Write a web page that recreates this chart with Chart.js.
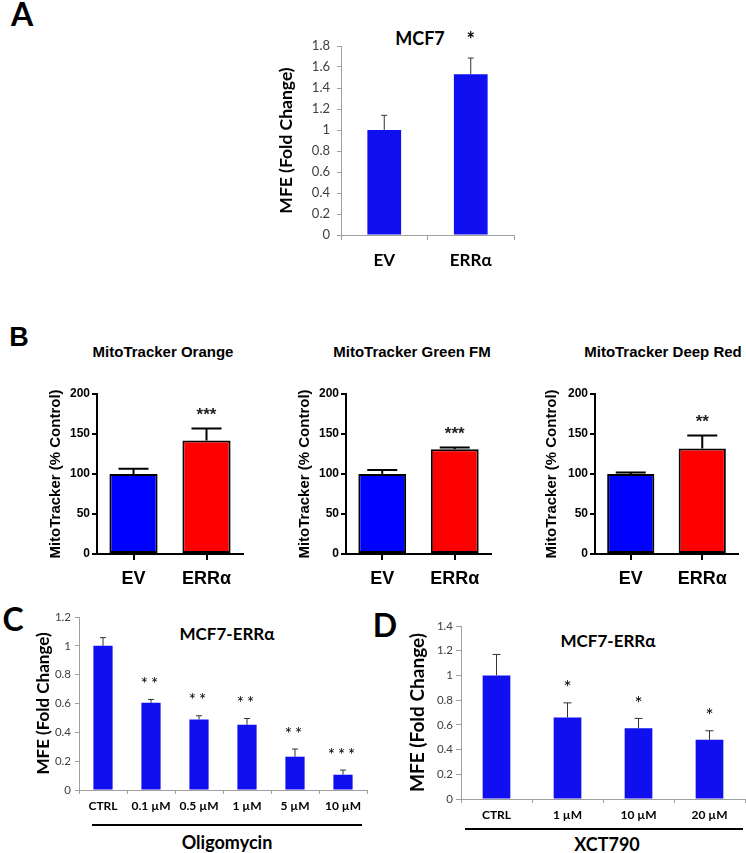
<!DOCTYPE html>
<html><head><meta charset="utf-8">
<script src="https://cdn.jsdelivr.net/npm/chart.js@4"></script>
<style>
html,body{margin:0;padding:0;background:#fff;}
#root{position:relative;width:746px;height:853px;overflow:hidden;background:#fff;}
canvas{position:absolute;}
.t{position:absolute;white-space:nowrap;transform:translate(-50%,-50%);line-height:1;color:#000;}
.xl{font-family:Lato,"Open Sans",sans-serif;font-weight:bold;}
.pr{font-family:"Liberation Sans",Arial,sans-serif;font-weight:bold;}
.ln{position:absolute;background:#000;height:2px;}
</style></head><body><div id="root">
<div class="t xl" style="left:22px;top:14px;font-size:32px">A</div>
<div class="t xl" style="left:420px;top:38px;font-size:18px">MCF7</div>
<div class="t pr" style="left:19px;top:337px;font-size:27px">B</div>
<div class="t pr" style="left:163px;top:351px;font-size:15px">MitoTracker Orange</div>
<div class="t pr" style="left:412px;top:351px;font-size:15px">MitoTracker Green FM</div>
<div class="t pr" style="left:663px;top:351px;font-size:15px">MitoTracker Deep Red</div>
<div class="t xl" style="left:13px;top:619px;font-size:32px">C</div>
<div class="t xl" style="left:227px;top:633px;font-size:17px">MCF7-ERRα</div>
<div class="ln" style="left:92px;top:824px;width:270px"></div>
<div class="t xl" style="left:227px;top:842px;font-size:18px">Oligomycin</div>
<div class="t xl" style="left:385px;top:625px;font-size:32px">D</div>
<div class="t xl" style="left:608px;top:640px;font-size:17px">MCF7-ERRα</div>
<div class="ln" style="left:465px;top:828px;width:278px"></div>
<div class="t xl" style="left:607px;top:844px;font-size:18px">XCT790</div>
</div>
<script>
// ---------- data ----------
const aCategories = ['EV', 'ERRα'];
const aValues = [1.0, 1.53];
const aErrors = [0.14, 0.155];
const aStars = ['', '*'];
const aYTicks = [0, 0.2, 0.4, 0.6, 0.8, 1, 1.2, 1.4, 1.6, 1.8];

const bCategories = ['EV', 'ERRα'];
const bOrangeValues = [100, 142];
const bOrangeErrors = [6.5, 15];
const bOrangeStars = ['', '***'];
const bGreenValues = [100, 131];
const bGreenErrors = [5, 2];
const bGreenStars = ['', '***'];
const bDeepRedValues = [100, 132];
const bDeepRedErrors = [2, 16];
const bDeepRedStars = ['', '**'];
const bYTicks = [0, 50, 100, 150, 200];

const cCategories = ['CTRL', '0.1 µM', '0.5 µM', '1 µM', '5 µM', '10 µM'];
const cValues = [1.0, 0.605, 0.489, 0.452, 0.231, 0.106];
const cErrors = [0.057, 0.023, 0.026, 0.044, 0.053, 0.032];
const cStars = ['', '**', '**', '**', '**', '***'];
const cYTicks = [0, 0.2, 0.4, 0.6, 0.8, 1, 1.2];

const dCategories = ['CTRL', '1 µM', '10 µM', '20 µM'];
const dValues = [1.0, 0.66, 0.573, 0.479];
const dErrors = [0.17, 0.118, 0.079, 0.073];
const dStars = ['', '*', '*', '*'];
const dYTicks = [0, 0.2, 0.4, 0.6, 0.8, 1, 1.2, 1.4];

// ---------- helpers ----------
const XL = 'Lato, "Open Sans", sans-serif';
const PR = '"Liberation Sans", Arial, sans-serif';
const EXBLUE = '#0f0ff0';

const errPlugin = {
  id: 'errbars',
  afterDatasetsDraw(chart, args, o) {
    const ctx = chart.ctx, ys = chart.scales.y;
    const ds = chart.data.datasets[0];
    chart.getDatasetMeta(0).data.forEach((bar, i) => {
      const v = ds.data[i], e = o.errors[i];
      const yTop = ys.getPixelForValue(v + e);
      ctx.save();
      ctx.strokeStyle = o.color; ctx.lineWidth = o.width; ctx.lineCap = 'butt';
      ctx.beginPath();
      ctx.moveTo(bar.x, bar.y); ctx.lineTo(bar.x, yTop);
      ctx.moveTo(bar.x - o.cap / 2, yTop); ctx.lineTo(bar.x + o.cap / 2, yTop);
      ctx.stroke();
      const s = o.stars[i];
      if (s) {
        ctx.fillStyle = o.starColor; ctx.font = o.starFont;
        ctx.textAlign = 'center'; ctx.textBaseline = 'middle';
        if ('letterSpacing' in ctx) ctx.letterSpacing = o.starSpacing || '0px';
        ctx.fillText(s, bar.x, yTop - o.starGap);
      }
      ctx.restore();
    });
  }
};

function fmt(v) { return String(+(+v).toFixed(2)); }

function makeBar(o) {
  const root = document.getElementById('root');
  const cv = document.createElement('canvas');
  cv.width = o.w; cv.height = o.h;
  cv.style.left = o.x + 'px'; cv.style.top = o.y + 'px';
  cv.style.width = o.w + 'px'; cv.style.height = o.h + 'px';
  root.appendChild(cv);
  return new Chart(cv, {
    type: 'bar',
    data: {
      labels: o.labels,
      datasets: [{
        data: o.values,
        backgroundColor: o.colors,
        borderColor: o.borderColor || 'rgba(0,0,0,0)',
        borderWidth: o.borderWidth || 0,
        borderSkipped: false,
        barPercentage: o.barPct,
        categoryPercentage: 1
      }]
    },
    options: {
      responsive: false, animation: false, devicePixelRatio: 1,
      layout: { padding: { top: o.padTop, right: o.padRight, left: 0, bottom: 0 } },
      plugins: {
        legend: { display: false }, tooltip: { enabled: false },
        errbars: o.err
      },
      scales: {
        x: {
          afterFit: s => { s.height = o.xH; },
          grid: { display: true, drawOnChartArea: false, drawTicks: true, tickLength: o.xTickLen,
                  color: o.axisColor, lineWidth: o.axisWidth, offset: o.xGridOffset },
          border: { display: true, color: o.axisColor, width: o.axisWidth },
          ticks: { color: o.xLabelColor, font: o.xFont, padding: o.xPad, maxRotation: 0, autoSkip: false }
        },
        y: {
          min: o.yTicks[0], max: o.yTicks[o.yTicks.length - 1],
          afterFit: s => { s.width = o.yW; },
          afterBuildTicks: s => { s.ticks = o.yTicks.map(v => ({ value: v })); },
          grid: { display: true, drawOnChartArea: false, drawTicks: true, tickLength: o.yTickLen,
                  color: o.axisColor, lineWidth: o.axisWidth },
          border: { display: true, color: o.axisColor, width: o.axisWidth },
          ticks: { color: o.yLabelColor, font: o.yFont, padding: o.yPad, callback: v => fmt(v) },
          title: { display: true, text: o.yTitle, color: '#000', font: o.yTitleFont,
                   padding: { top: o.yTitlePad, bottom: 0 } }
        }
      }
    },
    plugins: [errPlugin]
  });
}

// ---------- Panel A ----------
makeBar({
  x: 270, y: 20, w: 262, h: 260, labels: aCategories, values: aValues,
  colors: EXBLUE, barPct: 0.39, padTop: 26, padRight: 18, xH: 45, yW: 71,
  xTickLen: 5, yTickLen: 4, axisColor: '#a0a0a0', axisWidth: 1, xGridOffset: true,
  xLabelColor: '#000', xFont: { family: XL, size: 17, weight: 'bold' }, xPad: 10,
  yLabelColor: '#404040', yFont: { family: XL, size: 13 }, yPad: 7,
  yTicks: aYTicks, yTitle: 'MFE (Fold Change)', yTitleFont: { family: XL, size: 17.5, weight: 'bold' }, yTitlePad: 6,
  err: { errors: aErrors, stars: aStars, color: '#333', width: 1, cap: 6, starGap: 18,
         starColor: '#000', starFont: 'bold 20px ' + XL }
});

// ---------- Panel B ----------
const bCommon = {
  w: 210, h: 235, y: 365, labels: bCategories, colors: ['#0000ff', '#ff0000'],
  borderColor: '#000', borderWidth: 2, barPct: 0.66, padTop: 29, xH: 46,
  xTickLen: 6, yTickLen: 5, axisColor: '#000', axisWidth: 2, xGridOffset: false,
  xLabelColor: '#000', xFont: { family: PR, size: 18, weight: 'bold' }, xPad: 8,
  yLabelColor: '#000', yFont: { family: PR, size: 12, weight: 'bold' }, yPad: 2,
  yTicks: bYTicks, yTitle: 'MitoTracker (% Control)', yTitleFont: { family: PR, size: 15, weight: 'bold' }
};
function bErr(errors, stars) {
  return { errors, stars, color: '#000', width: 2, cap: 30, starGap: 13,
           starColor: '#222', starFont: 'bold 17px ' + PR };
}
makeBar(Object.assign({}, bCommon, { x: 40, yW: 57, padRight: 7, yTitlePad: 7,
  values: bOrangeValues, err: bErr(bOrangeErrors, bOrangeStars) }));
makeBar(Object.assign({}, bCommon, { x: 290, yW: 56, padRight: 9, yTitlePad: 6,
  values: bGreenValues, err: bErr(bGreenErrors, bGreenStars) }));
makeBar(Object.assign({}, bCommon, { x: 540, w: 206, yW: 55, padRight: 8, yTitlePad: 3,
  values: bDeepRedValues, err: bErr(bDeepRedErrors, bDeepRedStars) }));

// ---------- Panel C ----------
makeBar({
  x: 25, y: 605, w: 350, h: 215, labels: cCategories, values: cValues,
  colors: EXBLUE, barPct: 0.4, padTop: 12, padRight: 8, xH: 30, yW: 54,
  xTickLen: 4, yTickLen: 4, axisColor: '#a0a0a0', axisWidth: 1, xGridOffset: true,
  xLabelColor: '#000', xFont: { family: XL, size: 12, weight: 'bold' }, xPad: 5,
  yLabelColor: '#404040', yFont: { family: XL, size: 11.5 }, yPad: 4,
  yTicks: cYTicks, yTitle: 'MFE (Fold Change)', yTitleFont: { family: XL, size: 17, weight: 'bold' }, yTitlePad: 8,
  err: { errors: cErrors, stars: cStars, color: '#333', width: 1, cap: 6, starGap: 15,
         starColor: '#000', starFont: '17px ' + XL, starSpacing: '3px' }
});

// ---------- Panel D ----------
makeBar({
  x: 405, y: 612, w: 341, h: 213, labels: dCategories, values: dValues,
  colors: EXBLUE, barPct: 0.39, padTop: 14, padRight: 1, xH: 26, yW: 56,
  xTickLen: 4, yTickLen: 5, axisColor: '#a0a0a0', axisWidth: 1, xGridOffset: true,
  xLabelColor: '#000', xFont: { family: XL, size: 12, weight: 'bold' }, xPad: 5,
  yLabelColor: '#404040', yFont: { family: XL, size: 11.5 }, yPad: 3,
  yTicks: dYTicks, yTitle: 'MFE (Fold Change)', yTitleFont: { family: XL, size: 19, weight: 'bold' }, yTitlePad: 1.5,
  err: { errors: dErrors, stars: dStars, color: '#333', width: 1, cap: 8, starGap: 15,
         starColor: '#000', starFont: '19px ' + XL }
});
</script>
</body></html>
